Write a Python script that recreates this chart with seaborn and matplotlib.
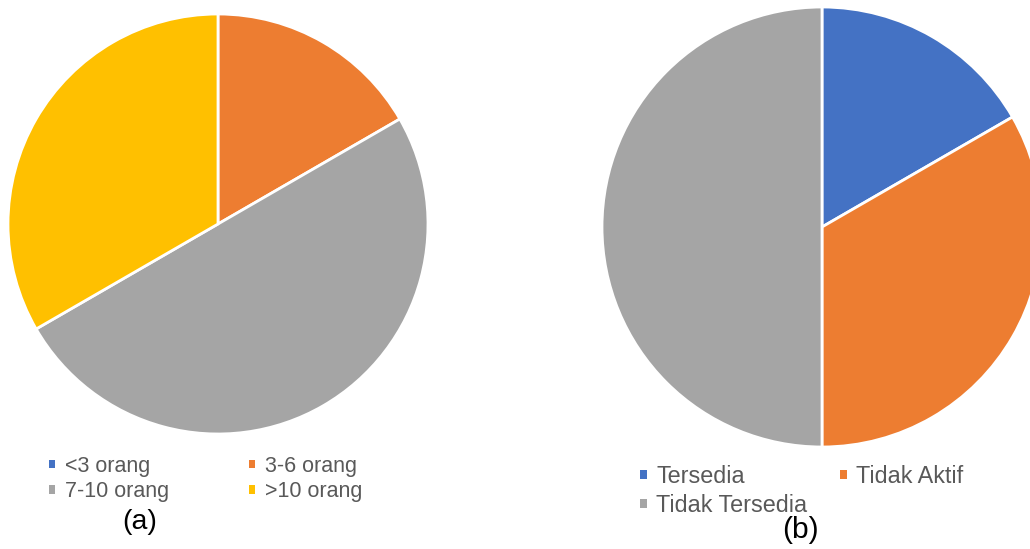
import matplotlib
matplotlib.use("Agg")
import matplotlib.pyplot as plt
import seaborn as sns

# ---- data ----
labels_a = ["<3 orang", "3-6 orang", "7-10 orang", ">10 orang"]
values_a = [0, 1, 3, 2]
labels_b = ["Tersedia", "Tidak Aktif", "Tidak Tersedia"]
values_b = [1, 2, 3]
colors = ["#4472C4", "#ED7D31", "#A5A5A5", "#FFC000"]

sns.set_theme(style="white")
plt.rcParams["font.family"] = ["Liberation Sans", "DejaVu Sans"]

W, H = 1030, 549
fig = plt.figure(figsize=(W / 100, H / 100), dpi=100)
fig.patch.set_facecolor("white")

def px_axes(left, top, right, bottom):
    return fig.add_axes([left / W, 1 - bottom / H, (right - left) / W, (bottom - top) / H])

wp = dict(edgecolor="white", linewidth=2)

# ---- pie (a) ----
ca, ra = (218, 224), 210
ax1 = px_axes(ca[0] - ra, ca[1] - ra, ca[0] + ra, ca[1] + ra)
w1, _ = ax1.pie(values_a, colors=colors[:4], startangle=90, counterclock=False,
                wedgeprops=wp, radius=1)
ax1.set_aspect("auto")
ax1.set_xlim(-1, 1)
ax1.set_ylim(-1, 1)
ax1.axis("off")

# ---- pie (b) ----
cb, rb = (822, 227), 220
right_b = W
ax2 = px_axes(cb[0] - rb, cb[1] - rb, right_b, cb[1] + rb)
w2, _ = ax2.pie(values_b, colors=colors[:3], startangle=90, counterclock=False,
                wedgeprops=wp, radius=1)
ax2.set_aspect("auto")
ax2.set_xlim(-1, (right_b - cb[0]) / rb)
ax2.set_ylim(-1, 1)
ax2.axis("off")

# ---- legends ----
fs_a = 15.5
order_a = [0, 2, 1, 3]
leg1 = fig.legend([w1[i] for i in order_a], [labels_a[i] for i in order_a],
                  ncol=2, loc="upper left", bbox_to_anchor=(49 / W, 1 - 456 / H),
                  frameon=False, fontsize=fs_a, handlelength=0.3, handleheight=0.22,
                  handletextpad=0.45, columnspacing=3.7, labelspacing=0.2,
                  borderpad=0, borderaxespad=0, labelcolor="#595959")
for h in leg1.legend_handles:
    h.set_linewidth(0)

fs_b = 16.8
order_b = [0, 2, 1]
leg2 = fig.legend([w2[i] for i in order_b], [labels_b[i] for i in order_b],
                  ncol=2, loc="upper left", bbox_to_anchor=(640 / W, 1 - 465 / H),
                  frameon=False, fontsize=fs_b, handlelength=0.28, handleheight=0.2,
                  handletextpad=0.42, columnspacing=1.4, labelspacing=0.25,
                  borderpad=0, borderaxespad=0, labelcolor="#595959")
for h in leg2.legend_handles:
    h.set_linewidth(0)

fig.text(140 / W, 1 - 522 / H, "(a)", fontsize=20.5, color="black", ha="center", va="center")
fig.text(800 / W, 1 - 530 / H, "(b)", fontsize=21.6, color="black", ha="center", va="center")

fig.savefig("out.png", dpi=100, facecolor="white")
